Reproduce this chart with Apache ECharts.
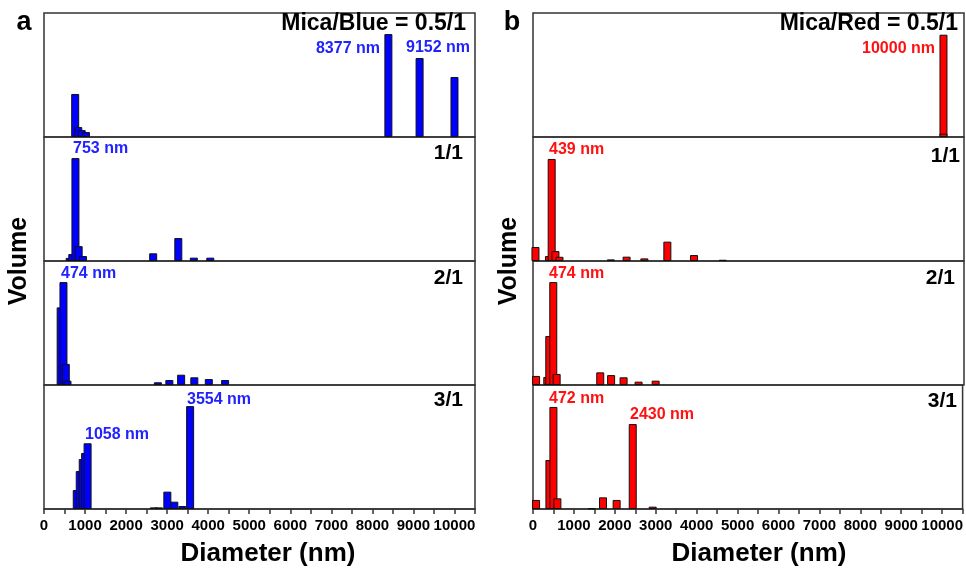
<!DOCTYPE html>
<html>
<head>
<meta charset="utf-8">
<script src="https://cdn.jsdelivr.net/npm/echarts@6/dist/echarts.min.js"></script>
<style>
  html, body { margin: 0; padding: 0; background: #fff; }
  #main { width: 966px; height: 568px; }
</style>
</head>
<body>
<div id="main"></div>
<script>
// ratio labels for the four stacked plots (top to bottom)
var ratios = ['0.5/1', '1/1', '2/1', '3/1'];

// [diameter nm, volume], panel a (Mica/Blue)
var blueHalf = [[760, 34.7], [835, 8], [917, 5.6], [1022, 4], [8390, 83], [9150, 63.7], [10000, 48.4]];
var blueOne = [[625, 2.5], [689, 5.6], [766, 83], [844, 12], [949, 4], [2660, 6.2], [3272, 18.5], [3650, 2.7], [4051, 2.7]];
var blueTwo = [[406, 62.6], [474, 83], [531, 17], [572, 3.5], [2774, 2.2], [3054, 4], [3341, 8.3], [3662, 6.2], [4015, 4.8], [4412, 4]];
var blueThree = [[798, 15.3], [871, 30.6], [944, 40.3], [1002, 45.2], [1062, 53], [2676, 1.3], [2800, 1.3], [3005, 14], [3175, 5.9], [3370, 2.4], [3560, 83]];

// panel b (Mica/Red)
var redHalf = [[10000, 82.5], [10000, 2.7]];
var redOne = [[60, 11.3], [389, 4], [455, 82.3], [547, 8], [645, 3.4], [1897, 1.3], [2280, 3.5], [2713, 2.1], [3273, 15.6], [3922, 4.8], [4623, 1]];
var redTwo = [[75, 7.3], [348, 6.5], [397, 39.5], [494, 83], [576, 8.9], [1638, 10.2], [1903, 8], [2207, 6.2], [2572, 2.7], [2988, 3.5]];
var redThree = [[75, 7.3], [401, 39.5], [499, 82.3], [596, 8.6], [1436, 0.5], [1711, 9.4], [2044, 7.3], [2438, 68.5], [2925, 1.9]];

// peak annotations
var bluePeaks = ['8377 nm', '9152 nm', '753 nm', '474 nm', '1058 nm', '3554 nm'];
var redPeaks = ['10000 nm', '439 nm', '474 nm', '472 nm', '2430 nm'];

(function () {
    var chart = echarts.init(document.getElementById('main'));
    var FONT = '"Liberation Sans", Arial, sans-serif';
    var tops = [13, 137, 261, 385];
    var H = 124, W = 431;
    var panels = [
        { left: 44, color: '#0000ff', data: [blueHalf, blueOne, blueTwo, blueThree] },
        { left: 533, color: '#ff0000', data: [redHalf, redOne, redTwo, redThree] }
    ];

    var grids = [], xAxes = [], yAxes = [], series = [];
    panels.forEach(function (p) {
        tops.forEach(function (t, si) {
            var idx = grids.length;
            var bottom = si === 3;
            grids.push({
                left: p.left, top: t, width: W, height: H,
                show: true, borderColor: '#333', borderWidth: 1.5
            });
            xAxes.push({
                gridIndex: idx, type: 'value', min: 0, max: 10500, interval: 500,
                axisLine: { show: bottom, lineStyle: { color: '#333', width: 1.5 } },
                axisTick: { show: bottom, length: 5, lineStyle: { color: '#333', width: 1.5 } },
                axisLabel: {
                    show: bottom, margin: 9, color: '#000', fontWeight: 'bold',
                    fontSize: 15, fontFamily: FONT,
                    formatter: function (v) { return v % 1000 === 0 ? String(v) : ''; }
                },
                splitLine: { show: false }
            });
            yAxes.push({ gridIndex: idx, type: 'value', min: 0, max: 100, show: false });
            series.push({
                type: 'bar', xAxisIndex: idx, yAxisIndex: idx,
                data: p.data[si], barWidth: 8, silent: true,
                itemStyle: { color: p.color, borderColor: '#111', borderWidth: 1 }
            });
        });
    });

    // text annotations
    function txt(s, x, y, align, color, size, rot) {
        return {
            type: 'text', x: x, y: y, z: 10, silent: true, rotation: rot || 0,
            style: {
                text: s, fill: color, fontSize: size, fontWeight: 'bold', fontFamily: FONT,
                textAlign: align, textVerticalAlign: 'middle'
            }
        };
    }
    var BLUE = '#2222ff', RED = '#ff1111';
    var g = [
        txt('a', 24, 23, 'center', '#000', 27),
        txt('b', 512, 23, 'center', '#000', 27),
        txt('Mica/Blue = ' + ratios[0], 466, 24, 'right', '#000', 23),
        txt('Mica/Red = ' + ratios[0], 958, 24, 'right', '#000', 23),
        txt(bluePeaks[0], 380, 49, 'right', BLUE, 16),
        txt(bluePeaks[1], 406, 48, 'left', BLUE, 16),
        txt(bluePeaks[2], 73, 149, 'left', BLUE, 16),
        txt(bluePeaks[3], 61, 274, 'left', BLUE, 16),
        txt(bluePeaks[4], 85, 435, 'left', BLUE, 16),
        txt(bluePeaks[5], 187, 400, 'left', BLUE, 16),
        txt(redPeaks[0], 935, 49, 'right', RED, 16),
        txt(redPeaks[1], 549, 150, 'left', RED, 16),
        txt(redPeaks[2], 549, 274, 'left', RED, 16),
        txt(redPeaks[3], 549, 399, 'left', RED, 16),
        txt(redPeaks[4], 630, 415, 'left', RED, 16),
        txt('Volume', 19, 261, 'center', '#000', 25, Math.PI / 2),
        txt('Volume', 509, 261, 'center', '#000', 25, Math.PI / 2),
        txt('Diameter (nm)', 268, 554, 'center', '#000', 26),
        txt('Diameter (nm)', 759, 554, 'center', '#000', 26)
    ];
    var ratioY = [[153, 278, 400], [156, 278, 401]];
    var ratioX = [[463, 463, 463], [960, 955, 957]];
    for (var pi = 0; pi < 2; pi++) {
        for (var k = 1; k < 4; k++) {
            g.push(txt(ratios[k], ratioX[pi][k - 1], ratioY[pi][k - 1], 'right', '#000', 21));
        }
    }

    var option = {
        animation: false,
        backgroundColor: '#fff',
        grid: grids,
        xAxis: xAxes,
        yAxis: yAxes,
        series: series,
        graphic: g
    };
    chart.setOption(option);
    window.addEventListener('resize', function () {
        chart.resize();
    });
})();
</script>
</body>
</html>
